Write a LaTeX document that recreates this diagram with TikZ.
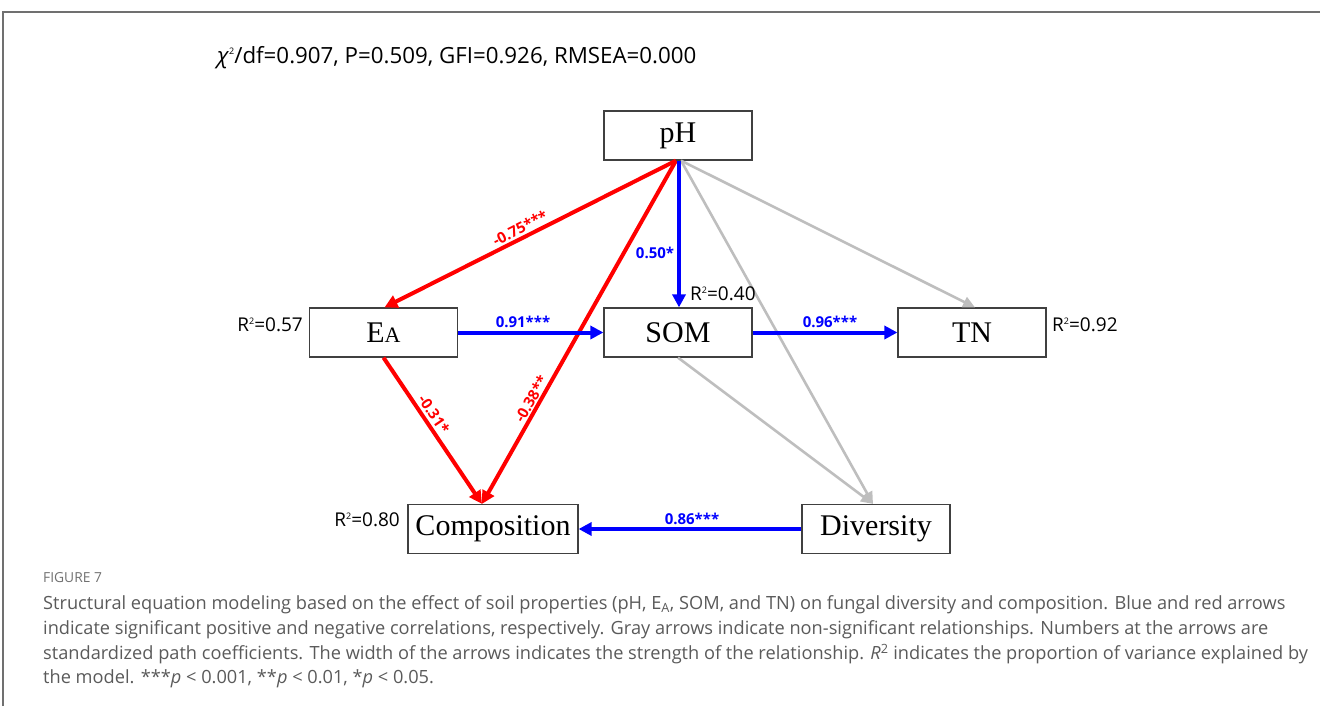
\documentclass[tikz,border=0pt]{standalone}
\usepackage{fontspec}
\setmainfont{Liberation Serif}
\newfontfamily\sansf{Open Sans}
\usetikzlibrary{arrows.meta}
\definecolor{gline}{HTML}{BEBEBE}
\definecolor{boxc}{HTML}{404040}
\definecolor{capc}{HTML}{5A5A5A}
\definecolor{framec}{HTML}{707070}
\newcommand{\rsq}[1]{R\raisebox{7pt}{\fontsize{9}{9}\selectfont 2}=#1}
\tikzset{
  var/.style={draw=boxc, line width=1.2pt, minimum width=148pt, minimum height=49pt, inner sep=0pt, font=\fontsize{30}{34}\selectfont},
  redarr/.style={draw=red, line width=4pt, -{Triangle[length=13pt,width=13pt]}},
  bluearr/.style={draw=blue, line width=4pt, -{Triangle[length=13pt,width=13pt]}},
  grayarr/.style={draw=gline, line width=2.6pt, -{Triangle[length=12pt,width=11pt]}},
  coef/.style={font=\sansf\bfseries\fontsize{15}{18}\selectfont, inner sep=0pt},
  rlab/.style={font=\sansf\fontsize{19}{22}\selectfont, inner sep=0pt},
  capt/.style={font=\sansf\fontsize{18.2}{22}\selectfont, text=capc, anchor=west, inner sep=0pt},
}
\begin{document}
\begin{tikzpicture}[x=1pt,y=-1pt]
\useasboundingbox (0,0) rectangle (1320,709);
\draw[framec, line width=1.5pt] (3,706) -- (3,12) -- (1320,12);

\node[anchor=west, inner sep=0pt, font=\sansf\fontsize{22.3}{26}\selectfont] (fit) at (217,58)
  {\textit{χ}\raisebox{9pt}{\fontsize{9}{9}\selectfont 2}/df=0.907, P=0.509, GFI=0.926, RMSEA=0.000};

\node[var] (pH) at (678,135.5) {pH};
\node[var] (EA) at (383.5,332.5) {E{\fontsize{22}{22}\selectfont A}};
\node[var] (SOM) at (678,332.5) {SOM};
\node[var] (TN) at (972,332.5) {TN};
\node[var, minimum width=170pt] (Comp) at (493,529) {Composition};
\node[var] (Div) at (876,529) {Diversity};

% gray paths
\draw[grayarr] ([xshift=3pt]pH.south) -- ([xshift=3pt]TN.north);
\draw[grayarr] ([xshift=3pt]pH.south) -- ([xshift=-3pt]Div.north);
\draw[grayarr] (SOM.south) -- ([xshift=-3pt]Div.north);
% red paths
\draw[redarr] ([xshift=-2pt]pH.south) -- ([xshift=1pt]EA.north);
\draw[redarr] ([xshift=-2pt]pH.south) -- ([xshift=-11pt]Comp.north);
\draw[redarr] (EA.south) -- ([xshift=-11pt]Comp.north);
% blue paths
\draw[bluearr] ([xshift=1pt]pH.south) -- ([xshift=1pt]SOM.north);
\draw[bluearr] (EA.east) -- (SOM.west);
\draw[bluearr] (SOM.east) -- (TN.west);
\draw[bluearr] (Div.west) -- (Comp.east);

% coefficients
\node[coef, text=red, rotate=26.8] (c1) at (520,228) {-0.75***};
\node[coef, text=red, rotate=60.3] (c2) at (531,399) {-0.38**};
\node[coef, text=red, rotate=-56] (c3) at (434,414) {-0.31*};
\node[coef, text=blue] (c4) at (655,253) {0.50*};
\node[coef, text=blue] (c5) at (523,322) {0.91***};
\node[coef, text=blue] (c6) at (830,322) {0.96***};
\node[coef, text=blue] (c7) at (692,519) {0.86***};

% R2
\node[rlab, anchor=east] (r1) at (303,325) {\rsq{0.57}};
\node[rlab, anchor=west] (r2) at (690,294) {\rsq{0.40}};
\node[rlab, anchor=west] (r3) at (1052,325) {\rsq{0.92}};
\node[rlab, anchor=east] (r4) at (400,520) {\rsq{0.80}};

% caption
\node[capt, font=\sansf\fontsize{13.8}{16}\selectfont, text=framec] (fig) at (43,578) {FIGURE 7};
\node[capt] (l1) at (43,605) {Structural equation modeling based on the effect of soil properties (pH, E\textsubscript{A}, SOM, and TN) on fungal diversity and composition. Blue and red arrows};
\node[capt] (l2) at (43,630) {indicate significant positive and negative correlations, respectively. Gray arrows indicate non-significant relationships. Numbers at the arrows are};
\node[capt] (l3) at (43,654) {standardized path coefficients. The width of the arrows indicates the strength of the relationship. \textit{R}\textsuperscript{2} indicates the proportion of variance explained by};
\node[capt] (l4) at (43,679) {the model. ***\textit{p} {\textless} 0.001, **\textit{p} {\textless} 0.01, *\textit{p} {\textless} 0.05.};
\end{tikzpicture}
\end{document}
